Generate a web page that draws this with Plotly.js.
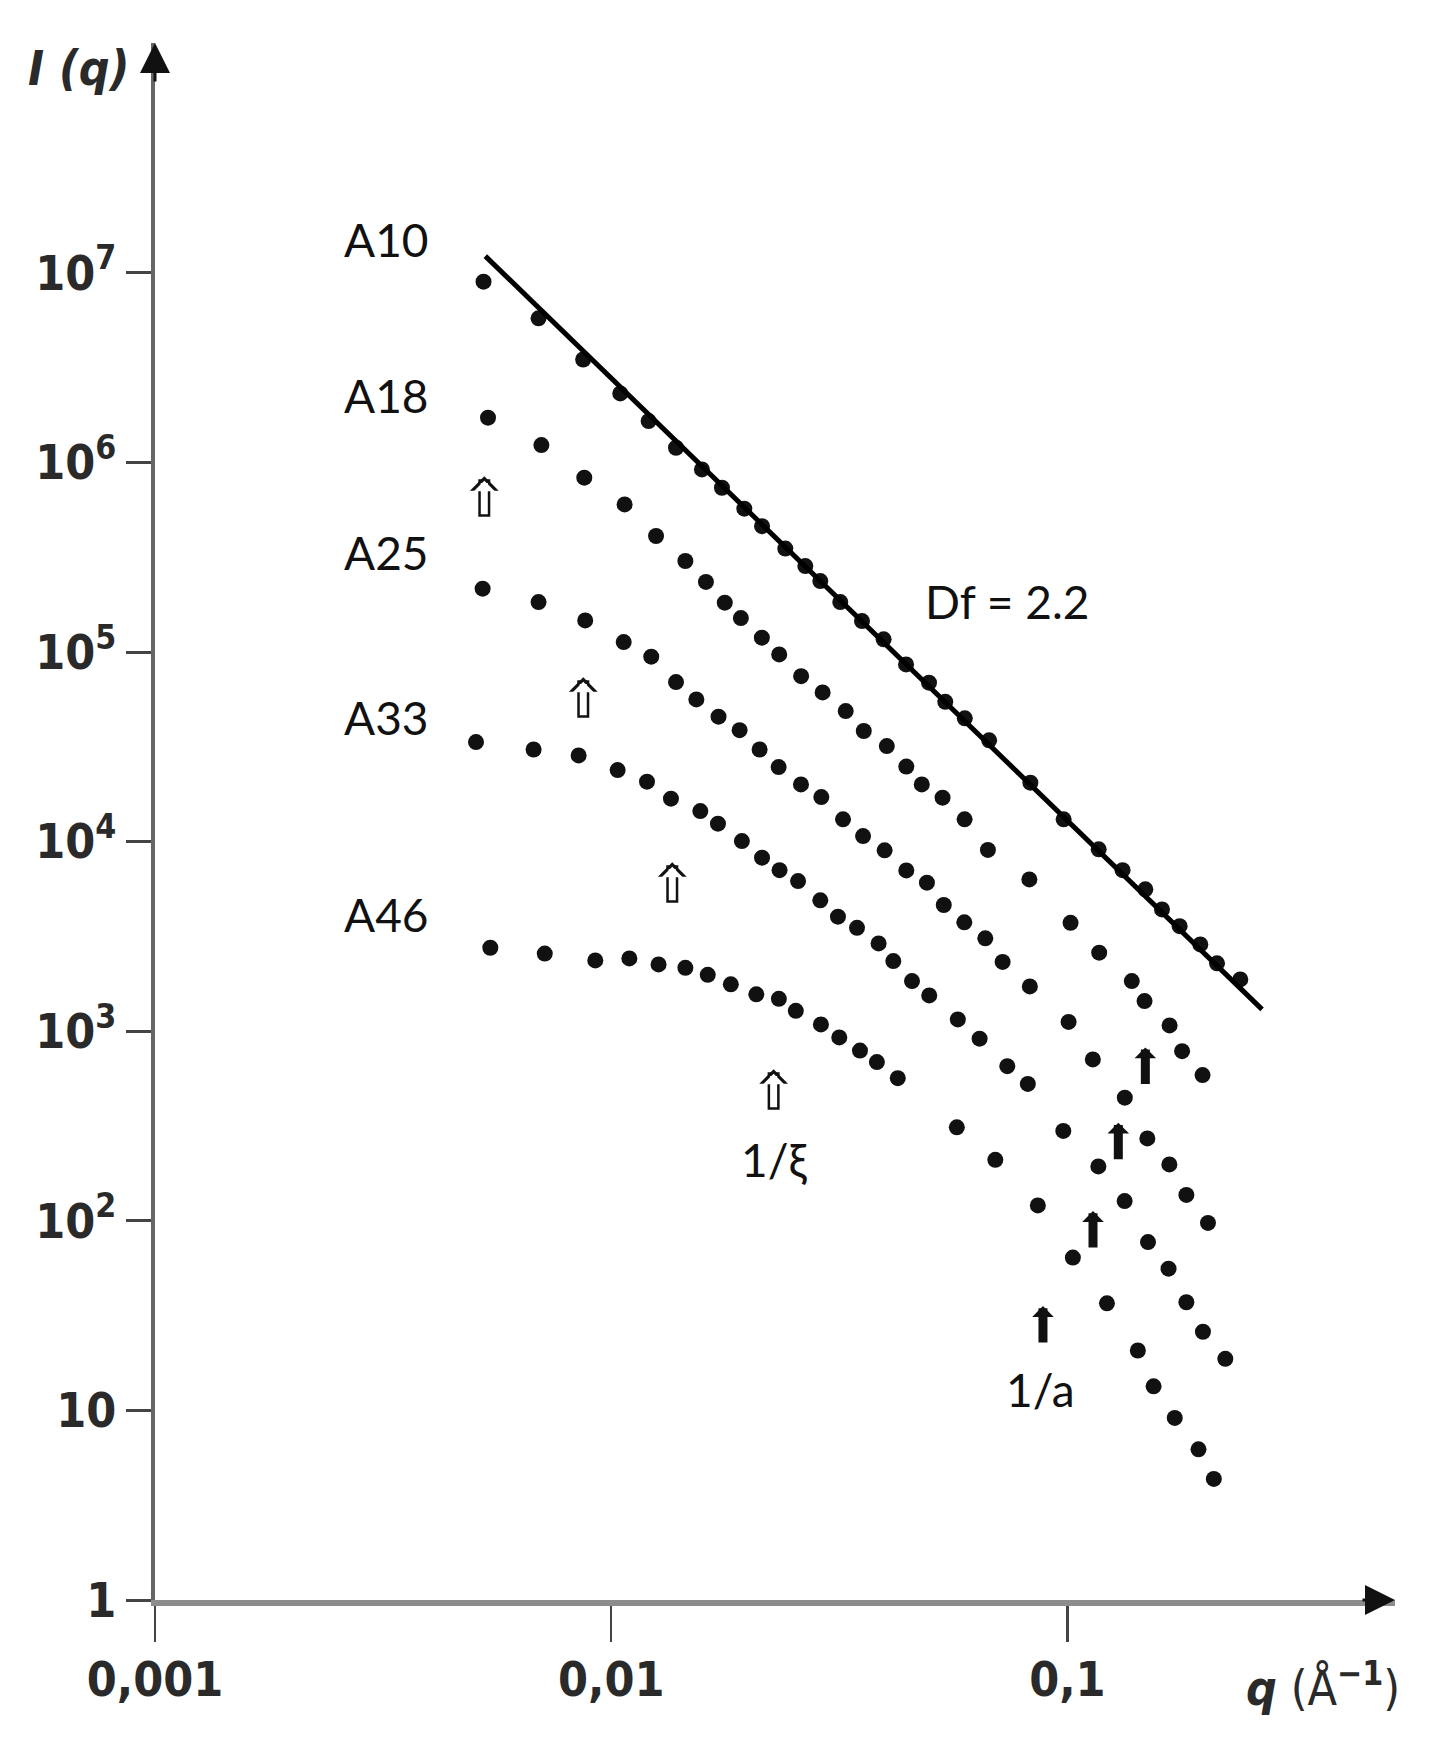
<!DOCTYPE html>
<html>
<head>
<meta charset="utf-8">
<script src="https://cdn.plot.ly/plotly-3.0.1.min.js"></script>
<style>
  html, body { margin: 0; padding: 0; background: #ffffff; }
  #chart { width: 1446px; height: 1757px; }
  .xtick text, .ytick text { font-stretch: condensed; }
</style>
</head>
<body>
<div id="chart"></div>
<script>
// ---------------- data ----------------
const qA10 = [0.00525, 0.00693, 0.00868, 0.01047, 0.01208, 0.01387, 0.01581, 0.01749, 0.01958, 0.02141, 0.02408, 0.02664, 0.02873, 0.03178, 0.03546, 0.03955, 0.04429, 0.04973, 0.05399, 0.05958, 0.06737, 0.08295, 0.09811, 0.1171, 0.1321, 0.1482, 0.1612, 0.1762, 0.1956, 0.2128, 0.2393];
const iA10 = [8.98e6, 5.75e6, 3.49e6, 2.31e6, 1.651e6, 1.195e6, 9.18e5, 7.35e5, 5.70e5, 4.61e5, 3.51e5, 2.84e5, 2.365e5, 1.834e5, 1.456e5, 1.166e5, 8.60e4, 6.89e4, 5.46e4, 4.47e4, 3.42e4, 2.045e4, 1.31e4, 9.10e3, 7.07e3, 5.60e3, 4.39e3, 3.58e3, 2.87e3, 2.28e3, 1.876e3];

const qA18 = [0.00537, 0.00703, 0.00873, 0.01070, 0.01254, 0.01454, 0.01613, 0.01774, 0.01924, 0.02139, 0.02335, 0.02608, 0.02907, 0.03266, 0.03578, 0.04019, 0.04435, 0.04795, 0.05325, 0.05952, 0.06695, 0.08253, 0.1016, 0.1174, 0.1384, 0.1476, 0.1675, 0.1784, 0.1978];
const iA18 = [1.721e6, 1.234e6, 8.31e5, 6.00e5, 4.09e5, 3.02e5, 2.343e5, 1.820e5, 1.510e5, 1.190e5, 9.71e4, 7.46e4, 6.12e4, 4.88e4, 3.83e4, 3.19e4, 2.487e4, 2.003e4, 1.704e4, 1.310e4, 9.04e3, 6.32e3, 3.73e3, 2.594e3, 1.837e3, 1.441e3, 1.073e3, 785, 587];

const qA25 = [0.005226, 0.00693, 0.00877, 0.01065, 0.01224, 0.01387, 0.01537, 0.01719, 0.01912, 0.02115, 0.02328, 0.02606, 0.02888, 0.03222, 0.03565, 0.03975, 0.04435, 0.04921, 0.05358, 0.05943, 0.06607, 0.07211, 0.08274, 0.1006, 0.1137, 0.1336, 0.1497, 0.1673, 0.1823, 0.2033];
const iA25 = [2.157e5, 1.834e5, 1.468e5, 1.128e5, 9.45e4, 6.94e4, 5.62e4, 4.56e4, 3.87e4, 3.06e4, 2.471e4, 2.003e4, 1.717e4, 1.31e4, 1.069e4, 8.99e3, 7.05e3, 6.07e3, 4.63e3, 3.75e3, 3.09e3, 2.32e3, 1.723e3, 1.119e3, 710, 446, 272, 198.4, 136.9, 97.5];

const qA33 = [0.005054, 0.006759, 0.008484, 0.01033, 0.01198, 0.01352, 0.01568, 0.01714, 0.01934, 0.02141, 0.02339, 0.02568, 0.02873, 0.03141, 0.03458, 0.03856, 0.04153, 0.04564, 0.04979, 0.05752, 0.0642, 0.07383, 0.0819, 0.09795, 0.1169, 0.1335, 0.1502, 0.1666, 0.1823, 0.1982, 0.2219];
const iA33 = [3.35e4, 3.06e4, 2.848e4, 2.383e4, 2.07e4, 1.684e4, 1.448e4, 1.243e4, 1.006e4, 8.23e3, 7.07e3, 6.19e3, 4.90e3, 4.02e3, 3.51e3, 2.905e3, 2.343e3, 1.837e3, 1.545e3, 1.154e3, 913, 654, 527, 298, 193.6, 127.0, 77.2, 55.9, 37.2, 26.0, 18.7];

const qA46 = [0.005433, 0.007151, 0.009229, 0.01096, 0.0127, 0.01454, 0.01628, 0.01829, 0.0208, 0.02331, 0.02539, 0.02882, 0.03162, 0.0351, 0.03823, 0.04248, 0.05723, 0.0695, 0.08614, 0.1028, 0.1221, 0.1427, 0.1545, 0.1719, 0.1938, 0.2094];
const iA46 = [2756, 2566, 2362, 2421, 2250, 2160, 1982, 1766, 1564, 1481, 1280, 1086, 927, 790, 687, 565, 311, 209.6, 120.5, 64.0, 36.7, 20.7, 13.4, 9.13, 6.23, 4.35];

// power-law fit line, Df = 2.2
const qFit = [0.005297, 0.2671];
const iFit = [1.225e7, 1303];

// series labels
const seriesNames = ["A10", "A18", "A25", "A33", "A46"];
const seriesLabelQ = [0.003214, 0.003214, 0.003214, 0.003214, 0.003214];
const seriesLabelI = [1.50e7, 2.257e6, 3.35e5, 4.52e4, 4.11e3];

// open arrows (1/xi) tips, filled arrows (1/a) tips
const openArrowQ = [0.00527, 0.008685, 0.01361, 0.0227];
const openArrowI = [8.44e5, 7.35e4, 7.77e3, 629];
const solidArrowQ = [0.1482, 0.1293, 0.1138, 0.0884];
const solidArrowI = [821, 329, 112.5, 35.5];

// other text labels
const noteTexts = ["Df = 2.2", "1/ξ", "1/a"];
const noteQ = [0.0740, 0.02271, 0.0872];
const noteI = [1.849e5, 210.8, 12.9];

// axis ticks
const xTickVals = [0.001, 0.01, 0.1];
const xTickText = ["0,001", "0,01", "0,1"];
const yTickVals = [1, 10, 100, 1e3, 1e4, 1e5, 1e6, 1e7];
const yTickText = ["1", "10", "10<sup>2</sup>", "10<sup>3</sup>", "10<sup>4</sup>", "10<sup>5</sup>", "10<sup>6</sup>", "10<sup>7</sup>"];

// ---------------- styling ----------------
const tickFont = "'DejaVu Sans Condensed', 'Liberation Sans Narrow', 'DejaVu Sans', sans-serif";
const labelFont = "Lato, 'Open Sans', 'DejaVu Sans', sans-serif";
const L = Math.log10;

const dotStyle = { color: "#111111", size: 16, line: { width: 0 } };
function dots(q, I, name) {
  return { x: q, y: I, name: name, type: "scatter", mode: "markers", marker: dotStyle, cliponaxis: false, showlegend: false, hoverinfo: "x+y" };
}

const traces = [
  dots(qA10, iA10, "A10"),
  dots(qA18, iA18, "A18"),
  dots(qA25, iA25, "A25"),
  dots(qA33, iA33, "A33"),
  dots(qA46, iA46, "A46"),
  { x: qFit, y: iFit, type: "scatter", mode: "lines", line: { color: "#000000", width: 5 }, showlegend: false, name: "Df = 2.2" }
];

const annotations = [];

// series labels
seriesNames.forEach((t, k) => {
  annotations.push({ x: L(seriesLabelQ[k]), y: L(seriesLabelI[k]), xref: "x", yref: "y", text: t, showarrow: false,
    xanchor: "center", yanchor: "middle", font: { family: labelFont, size: 46, color: "#111111" } });
});

// notes
noteTexts.forEach((t, k) => {
  annotations.push({ x: L(noteQ[k]), y: L(noteI[k]), xref: "x", yref: "y", text: t, showarrow: false,
    xanchor: "center", yanchor: "middle", font: { family: labelFont, size: 46, color: "#111111" } });
});

// open (hollow) arrows: black arrow with white arrow inside
openArrowQ.forEach((q, k) => {
  annotations.push({ x: L(q), y: L(openArrowI[k]), xref: "x", yref: "y", text: "", showarrow: true,
    ax: 0, ay: 42, arrowhead: 1, arrowwidth: 12, arrowsize: 0.4, arrowcolor: "#111111" });
  annotations.push({ x: L(q), y: L(openArrowI[k]), xref: "x", yref: "y", text: "", showarrow: true,
    ax: 0, ay: 35, yshift: -4.5, arrowhead: 1, arrowwidth: 7, arrowsize: 0.5, arrowcolor: "#ffffff" });
});

// filled arrows
solidArrowQ.forEach((q, k) => {
  annotations.push({ x: L(q), y: L(solidArrowI[k]), xref: "x", yref: "y", text: "", showarrow: true,
    ax: 0, ay: 38, arrowhead: 1, arrowwidth: 9, arrowsize: 0.4, arrowcolor: "#111111" });
});

// axis arrowheads
annotations.push({ x: 1, y: 0, xref: "paper", yref: "paper", text: "", showarrow: true,
  ax: -34, ay: 0, arrowhead: 2, arrowwidth: 3, arrowsize: 2.0, arrowcolor: "#111111" });
annotations.push({ x: 0, y: 1, xref: "paper", yref: "paper", text: "", showarrow: true,
  ax: 0, ay: 40, arrowhead: 2, arrowwidth: 3, arrowsize: 2.0, arrowcolor: "#111111" });

// axis titles
annotations.push({ x: -0.0613, y: 0.984, xref: "paper", yref: "paper", showarrow: false,
  text: "<i>I</i> (<i>q</i>)", xanchor: "center", yanchor: "middle",
  font: { family: tickFont, size: 48, color: "#2a2a2a", weight: "bold", style: "italic" } });
annotations.push({ x: 0.942, y: -0.0545, xref: "paper", yref: "paper", showarrow: false,
  text: "<b><i>q</i></b> (Å<sup><b>−1</b></sup>)", xanchor: "center", yanchor: "middle",
  font: { family: tickFont, size: 48, color: "#2a2a2a" } });

const layout = {
  width: 1446, height: 1757,
  margin: { l: 155, r: 51, t: 43, b: 157, pad: 0 },
  paper_bgcolor: "#ffffff", plot_bgcolor: "#ffffff",
  showlegend: false,
  xaxis: {
    type: "log", range: [-3, -0.2819], autorange: false,
    showgrid: false, zeroline: false,
    showline: true, linecolor: "#8c8c8c", linewidth: 6,
    ticks: "outside", ticklen: 36, tickwidth: 2.5, tickcolor: "#444444",
    tickvals: xTickVals, ticktext: xTickText, ticklabelstandoff: -4,
    tickfont: { family: tickFont, size: 48, color: "#2a2a2a", weight: "bold" }
  },
  yaxis: {
    type: "log", range: [0, 8.212], autorange: false,
    showgrid: false, zeroline: false,
    showline: true, linecolor: "#666666", linewidth: 4,
    ticks: "outside", ticklen: 25, tickwidth: 3, tickcolor: "#444444",
    tickvals: yTickVals, ticktext: yTickText, ticklabelstandoff: 0,
    tickfont: { family: tickFont, size: 48, color: "#2a2a2a", weight: "bold" }
  },
  annotations: annotations
};

Plotly.newPlot("chart", traces, layout, { staticPlot: true, displayModeBar: false });
</script>
</body>
</html>
